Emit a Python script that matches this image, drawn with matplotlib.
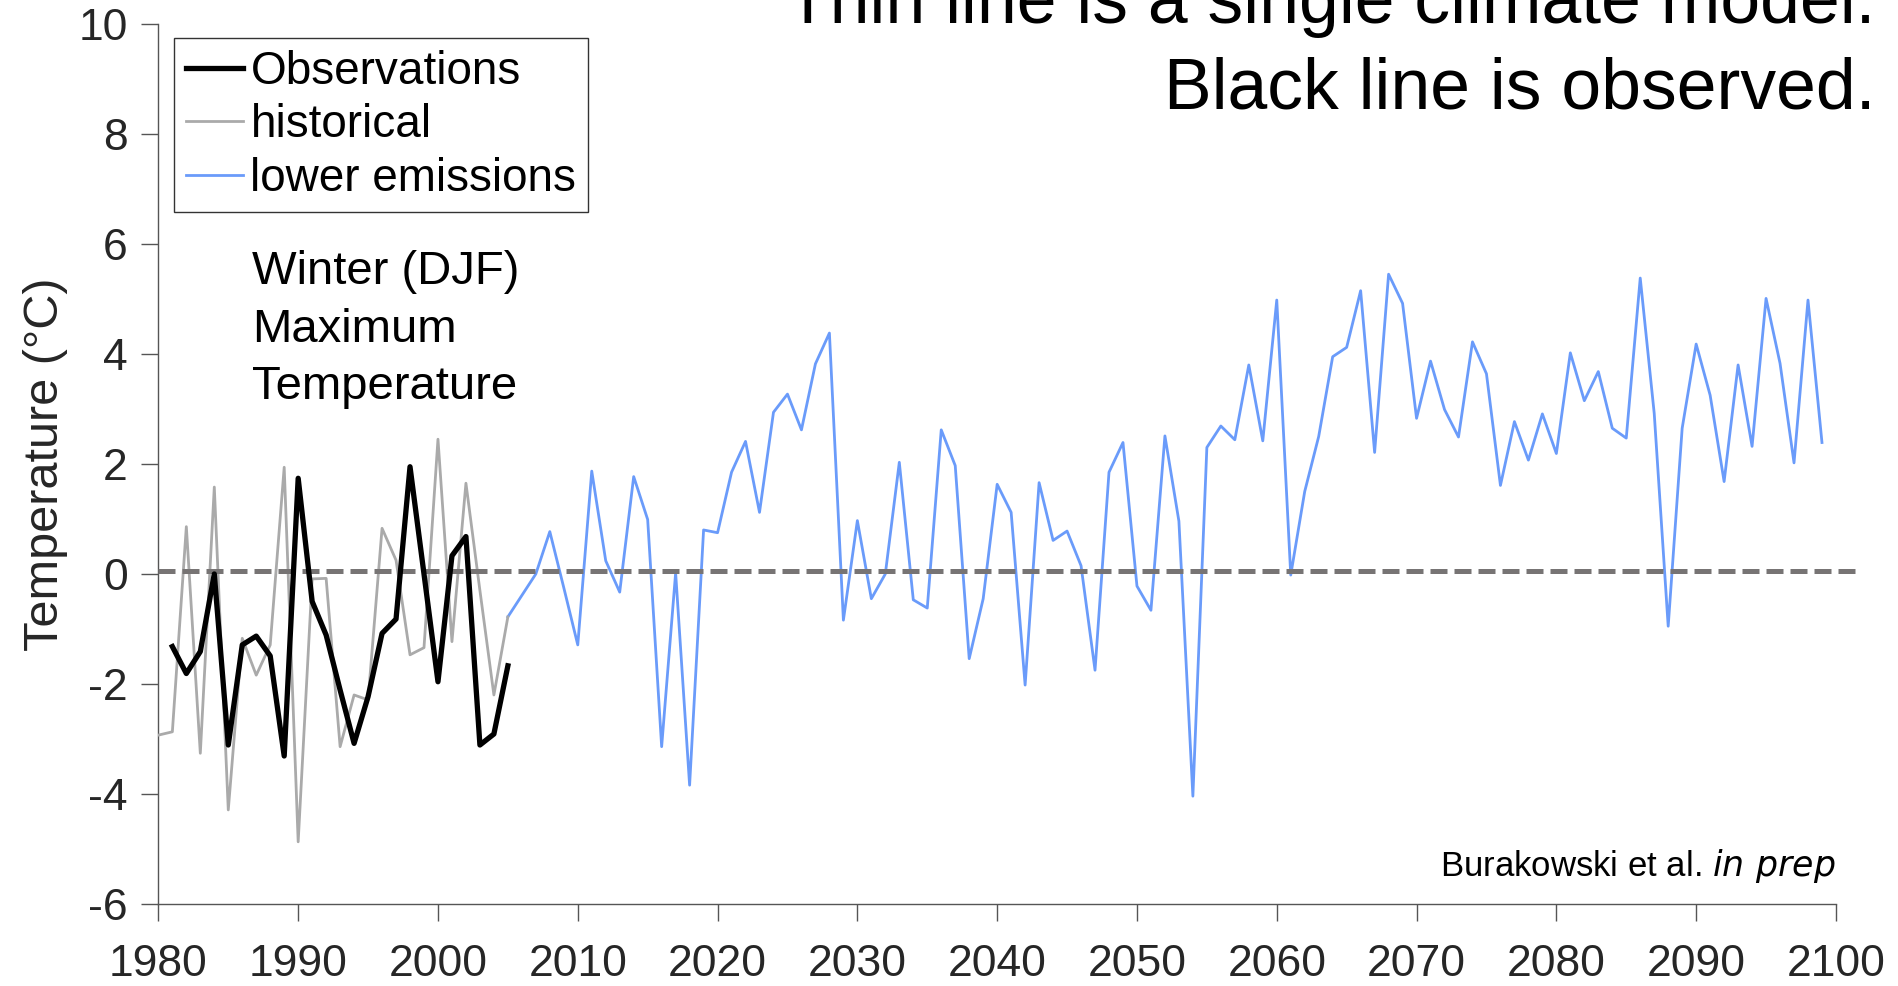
import matplotlib.pyplot as plt

plt.rcParams['font.family'] = ['Liberation Sans', 'DejaVu Sans']
plt.rcParams['axes.unicode_minus'] = False

# winter (DJF) maximum temperature anomalies, deg C
obs_years = list(range(1981, 2006))
obs_temp = [-1.32, -1.81, -1.41, 0.0, -3.11, -1.29, -1.13, -1.49, -3.31, 1.74,
            -0.50, -1.11, -2.11, -3.08, -2.23, -1.08, -0.82, 1.95, 0.0, -1.96,
            0.33, 0.68, -3.11, -2.91, -1.67]

hist_years = list(range(1980, 2006))
hist_temp = [-2.93, -2.87, 0.86, -3.26, 1.58, -4.29, -1.17, -1.84, -1.29, 1.94,
             -4.87, -0.09, -0.08, -3.14, -2.20, -2.29, 0.83, 0.25, -1.47, -1.34,
             2.45, -1.23, 1.65, -0.30, -2.20, -0.78]

low_years = list(range(2005, 2100))
low_temp = [-0.78, -0.39, 0.0, 0.77, -0.25, -1.29, 1.87, 0.24, -0.33, 1.77,
            0.99, -3.14, 0.02, -3.84, 0.80, 0.75, 1.85, 2.41, 1.12, 2.94,
            3.27, 2.62, 3.82, 4.38, -0.84, 0.97, -0.45, 0.0, 2.03, -0.47,
            -0.62, 2.62, 1.97, -1.54, -0.45, 1.63, 1.12, -2.02, 1.66, 0.61,
            0.78, 0.15, -1.75, 1.85, 2.39, -0.22, -0.66, 2.51, 0.96, -4.04,
            2.30, 2.69, 2.44, 3.80, 2.42, 4.98, -0.02, 1.50, 2.50, 3.95,
            4.12, 5.15, 2.21, 5.45, 4.92, 2.83, 3.87, 2.99, 2.49, 4.22,
            3.64, 1.61, 2.77, 2.07, 2.91, 2.19, 4.02, 3.15, 3.68, 2.65,
            2.47, 5.38, 2.92, -0.95, 2.65, 4.18, 3.25, 1.68, 3.80, 2.32,
            5.01, 3.83, 2.02, 4.98, 2.39]

base_years = [1980, 2101.4]
base_temp = [0.05, 0.05]

xticks = list(range(1980, 2101, 10))
yticks = list(range(-6, 11, 2))

fig = plt.figure(figsize=(18.99, 9.86), dpi=100)
ax = fig.add_axes([0.0834, 0.0832, 0.8834, 0.8925])

ax.plot(low_years, low_temp, color='#6a9bfa', lw=2.0, label='lower emissions', zorder=2)
ax.plot(hist_years, hist_temp, color='#aaaaaa', lw=2.0, label='historical', zorder=3)
ax.plot(base_years, base_temp, color='#777474', lw=3.6, dashes=(3.4, 1.4),
        clip_on=False, zorder=4)
ax.plot(obs_years, obs_temp, color='black', lw=3.8, label='Observations', zorder=5)

ax.set_xlim(1980, 2100)
ax.set_ylim(-6, 10)
ax.set_xticks(xticks)
ax.set_yticks(yticks)

for s in ['top', 'right']:
    ax.spines[s].set_visible(False)
for s in ['left', 'bottom']:
    ax.spines[s].set_color('#555555')
    ax.spines[s].set_linewidth(1.0)

ax.tick_params(axis='both', direction='out', length=12, width=1.0,
               color='#555555', labelcolor='#262626', labelsize=32)
ax.tick_params(axis='x', pad=17)
ax.tick_params(axis='y', pad=10)

ax.set_ylabel('Temperature (\u00b0C)', fontsize=35, color='#262626')
ax.yaxis.set_label_coords(-0.054, 0.5)

handles, labels = ax.get_legend_handles_labels()
order = [2, 1, 0]
leg = ax.legend([handles[i] for i in order], [labels[i] for i in order],
                loc='upper left', bbox_to_anchor=(0.0095, 0.9837), borderaxespad=0,
                fontsize=33, handlelength=1.24, handletextpad=0.17,
                borderpad=0.25, labelspacing=0.21, fancybox=False,
                framealpha=1, edgecolor='#333333')
leg.get_frame().set_linewidth(1.0)

ax.text(0.0557, 0.705, 'Winter (DJF)', transform=ax.transAxes, fontsize=34, va='baseline')
ax.text(0.0557, 0.639, 'Maximum', transform=ax.transAxes, fontsize=34, va='baseline')
ax.text(0.0557, 0.574, 'Temperature', transform=ax.transAxes, fontsize=34, va='baseline')

ax.text(1.0, 0.032, 'Burakowski et al. $\\it{in\\ prep}$', transform=ax.transAxes,
        fontsize=25, ha='right', va='baseline')

fig.text(0.9874, 0.9767, 'Thin line is a single climate model.', fontsize=51.5,
         ha='right', va='baseline')
fig.text(0.9874, 0.8895, 'Black line is observed.', fontsize=51.5,
         ha='right', va='baseline')

fig.savefig('out.png', dpi=100)
